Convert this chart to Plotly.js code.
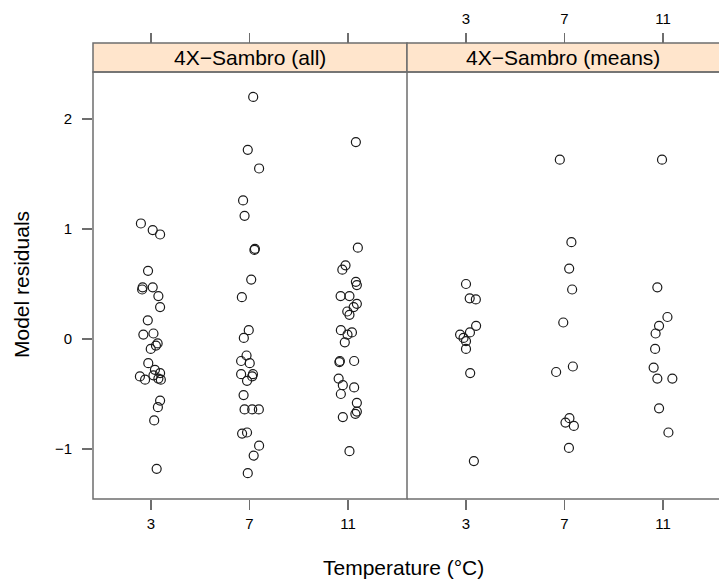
<!DOCTYPE html>
<html>
<head>
<meta charset="utf-8">
<script src="https://cdn.plot.ly/plotly-3.0.1.min.js"></script>
<style>html,body{margin:0;padding:0;background:#fff;}#plot{width:719px;height:581px;}</style>
</head>
<body>
<div id="plot"></div>
<script>
// Panel labels, axis titles and temperature ticks
const panelNames = ["4X\u2212Sambro (all)", "4X\u2212Sambro (means)"];
const xTitle = "Temperature (\u00b0C)";
const yTitle = "Model residuals";
const tempTicks = [3, 7, 11];
const residTicks = [-1, 0, 1, 2];
const residTickText = ["\u22121", "0", "1", "2"];

// All residuals: jittered temperature and residual value
const allTemp = [
  7.15, 6.93, 7.39, 6.74, 6.80, 7.20, 7.22, 7.07, 6.69,
  11.32, 11.40, 10.90, 10.77, 11.32, 11.36, 10.70, 11.06,
  2.59, 3.07, 3.37, 2.88, 2.66, 2.64, 3.07, 3.30,
  3.37, 2.87, 2.69, 3.10, 3.27, 3.20, 2.99, 2.89, 2.55, 2.76, 3.16,
  3.37, 3.30, 3.40, 3.10, 3.37, 3.28, 3.13, 3.23,
  6.97, 6.77, 6.88, 6.66, 7.01, 6.66, 7.11, 7.14, 6.90, 6.76,
  6.80, 7.11, 7.38, 6.70, 6.90, 7.39, 7.17, 6.93,
  11.36, 11.23, 10.97, 11.06, 10.71, 11.16, 10.98, 10.87,
  10.65, 10.67, 11.25, 10.62, 10.79, 11.25, 10.71, 11.36, 11.36, 11.30, 10.79, 11.06
];
const allResid = [
  2.20, 1.72, 1.55, 1.26, 1.12, 0.81, 0.82, 0.54, 0.38,
  1.79, 0.83, 0.67, 0.63, 0.52, 0.49, 0.39, 0.39,
  1.05, 0.99, 0.95, 0.62, 0.47, 0.45, 0.47, 0.39,
  0.29, 0.17, 0.04, 0.05, -0.04, -0.06, -0.09, -0.22, -0.34, -0.37, -0.28,
  -0.31, -0.36, -0.37, -0.33, -0.56, -0.62, -0.74, -1.18,
  0.08, 0.01, -0.15, -0.20, -0.22, -0.32, -0.34, -0.32, -0.38, -0.51,
  -0.64, -0.64, -0.64, -0.86, -0.85, -0.97, -1.06, -1.22,
  0.32, 0.29, 0.25, 0.22, 0.08, 0.06, 0.04, -0.03,
  -0.21, -0.20, -0.20, -0.36, -0.42, -0.44, -0.50, -0.58, -0.66, -0.68, -0.71, -1.02
];

// Residuals of the means
const meanTemp = [
  3.00, 3.15, 3.40, 3.41, 2.76, 3.16, 2.90, 3.00, 3.00, 3.17, 3.32,
  6.81, 7.28, 7.19, 7.31, 6.95, 7.34, 6.66, 7.20, 7.04, 7.38, 7.18,
  10.96, 10.77, 11.18, 10.84, 10.70, 10.68, 10.62, 10.77, 11.38, 10.84, 11.22
];
const meanResid = [
  0.50, 0.37, 0.36, 0.12, 0.04, 0.06, 0.01, -0.02, -0.09, -0.31, -1.11,
  1.63, 0.88, 0.64, 0.45, 0.15, -0.25, -0.30, -0.72, -0.76, -0.79, -0.99,
  1.63, 0.47, 0.20, 0.12, 0.05, -0.09, -0.26, -0.36, -0.36, -0.63, -0.85
];

const marker = {symbol: 'circle-open', size: 9, color: '#1a1a1a', line: {width: 1.2, color: '#1a1a1a'}};

const traces = [
  {x: allTemp, y: allResid, xaxis: 'x', yaxis: 'y', mode: 'markers', type: 'scatter', marker: marker},
  {x: meanTemp, y: meanResid, xaxis: 'x2', yaxis: 'y', mode: 'markers', type: 'scatter', marker: marker},
  {x: [], y: [], xaxis: 'x3', yaxis: 'y', type: 'scatter', mode: 'markers'},
  {x: [], y: [], xaxis: 'x4', yaxis: 'y', type: 'scatter', mode: 'markers'}
];

const W = 719, H = 581;
const mL = 93, mR = 0, mT = 43, mB = 82;
const plotW = W - mL - mR, plotH = H - mT - mB;
const split = (407 - mL) / plotW;           // panel divider
const panelTop = (H - mB - 72) / plotH;     // top of panels, below strips

const lineCol = '#6e6e6e';
const fam = 'Liberation Sans, Arial, sans-serif';
const tickFont = {family: fam, size: 15, color: '#000'};

function xAxis(domain, range, extra) {
  return Object.assign({
    domain: domain, range: range, tickvals: tempTicks, ticktext: tempTicks.map(String),
    ticks: 'outside', ticklen: 10, tickwidth: 1.3, tickcolor: lineCol,
    showgrid: false, zeroline: false, showline: false,
    tickfont: tickFont, fixedrange: true
  }, extra || {});
}

const layout = {
  width: W, height: H,
  margin: {l: mL, r: mR, t: mT, b: mB, pad: 0},
  paper_bgcolor: '#fff', plot_bgcolor: '#fff',
  showlegend: false,
  font: {family: fam, color: '#000'},
  xaxis: xAxis([0, split], [0.645, 13.396], {anchor: 'y', ticklabelstandoff: 1}),
  xaxis2: xAxis([split, 1], [0.604, 13.274], {anchor: 'y', ticklabelstandoff: 1}),
  xaxis3: xAxis([0, split], [0.645, 13.396], {overlaying: 'x', side: 'top', anchor: 'free', position: 1, showticklabels: false}),
  xaxis4: xAxis([split, 1], [0.604, 13.274], {overlaying: 'x2', side: 'top', anchor: 'free', position: 1, ticklabelstandoff: 3}),
  yaxis: {
    domain: [0, panelTop], range: [-1.4545, 2.427],
    tickvals: residTicks, ticktext: residTickText,
    ticks: 'outside', ticklen: 10, tickwidth: 1.3, tickcolor: lineCol,
    showgrid: false, zeroline: false, showline: false,
    tickfont: tickFont, fixedrange: true, ticklabelstandoff: 7
  },
  shapes: [
    // panel frames
    {type: 'rect', xref: 'paper', yref: 'paper', x0: 0, x1: split, y0: 0, y1: panelTop, line: {color: lineCol, width: 1.5}},
    {type: 'line', xref: 'paper', yref: 'paper', x0: split, x1: 1.01, y0: 0, y1: 0, line: {color: lineCol, width: 1.5}},
    {type: 'line', xref: 'paper', yref: 'paper', x0: split, x1: 1.01, y0: panelTop, y1: panelTop, line: {color: lineCol, width: 1.5}},
    // strips
    {type: 'rect', xref: 'paper', yref: 'paper', x0: 0, x1: split, y0: panelTop, y1: 1, fillcolor: '#ffe5cc', line: {color: lineCol, width: 1.5}, layer: 'below'},
    {type: 'rect', xref: 'paper', yref: 'paper', x0: split, x1: 1.01, y0: panelTop, y1: 1, fillcolor: '#ffe5cc', line: {color: lineCol, width: 1.5}, layer: 'below'}
  ],
  annotations: [
    {xref: 'paper', yref: 'paper', x: split / 2, y: (panelTop + 1) / 2, text: panelNames[0], showarrow: false, font: {size: 21, color: '#000'}, xanchor: 'center', yanchor: 'middle'},
    {xref: 'paper', yref: 'paper', x: (split + 1) / 2, y: (panelTop + 1) / 2, text: panelNames[1], showarrow: false, font: {size: 21, color: '#000'}, xanchor: 'center', yanchor: 'middle'},
    {xref: 'paper', yref: 'paper', x: (403.5 - mL) / plotW, y: (H - mB - 567) / plotH, text: xTitle, showarrow: false, font: {size: 21, color: '#000'}, xanchor: 'center', yanchor: 'middle'},
    {xref: 'paper', yref: 'paper', x: (21 - mL) / plotW, y: (H - mB - 285) / plotH, text: yTitle, textangle: -90, showarrow: false, font: {size: 21, color: '#000'}, xanchor: 'center', yanchor: 'middle'}
  ]
};

Plotly.newPlot('plot', traces, layout, {staticPlot: true, displayModeBar: false});
</script>
</body>
</html>
